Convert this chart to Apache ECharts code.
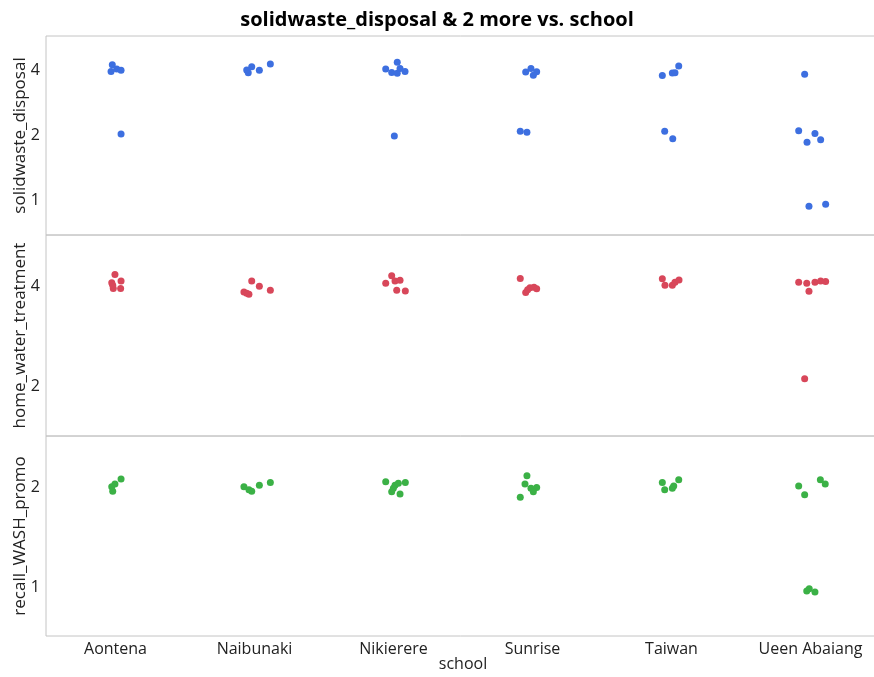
<!DOCTYPE html>
<html>
<head>
<meta charset="utf-8">
<script src="https://cdn.jsdelivr.net/npm/echarts/dist/echarts.min.js"></script>
<style>
  html, body { margin: 0; padding: 0; background: #fff; }
  #chart { width: 874px; height: 677px; }
</style>
</head>
<body>
<div id="chart"></div>
<script>
// Schools on the x axis
const schools = ['Aontena', 'Naibunaki', 'Nikierere', 'Sunrise', 'Taiwan', 'Ueen Abaiang'];

// Each point: [school index, horizontal jitter, jittered response value]
const solidwasteDisposal = [
  [0, -0.023, 4.23], [0, -0.032, 3.94], [0, 0.009, 4.04], [0, 0.040, 3.99], [0, 0.040, 2.02],
  [1, -0.045, 3.89], [1, -0.020, 4.14], [1, -0.056, 4.00], [1, 0.035, 3.99], [1, 0.114, 4.26],
  [2, -0.056, 4.04], [2, -0.013, 3.90], [2, 0.027, 4.34], [2, 0.027, 3.86], [2, 0.047, 4.07], [2, 0.083, 3.94], [2, 0.006, 1.98],
  [3, -0.049, 3.92], [3, -0.011, 4.07], [3, 0.030, 3.93], [3, 0.006, 3.78], [3, -0.088, 2.08], [3, -0.040, 2.06],
  [4, -0.066, 3.77], [4, 0.006, 3.87], [4, 0.025, 3.88], [4, 0.052, 4.17], [4, -0.049, 2.08], [4, 0.009, 1.92],
  [5, -0.042, 3.82], [5, -0.085, 2.09], [5, -0.025, 1.85], [5, 0.032, 2.03], [5, 0.073, 1.90], [5, -0.011, 0.935], [5, 0.109, 0.955]
];

const homeWaterTreatment = [
  [0, -0.004, 4.35], [0, -0.027, 4.11], [0, -0.016, 3.95], [0, 0.040, 4.16], [0, 0.037, 3.95], [0, -0.020, 4.04],
  [1, -0.076, 3.85], [1, -0.040, 3.79], [1, -0.056, 3.82], [1, -0.020, 4.16], [1, 0.035, 4.01], [1, 0.114, 3.90],
  [2, -0.056, 4.09], [2, -0.013, 4.31], [2, 0.011, 4.16], [2, 0.047, 4.18], [2, 0.023, 3.90], [2, 0.085, 3.88],
  [3, -0.088, 4.23], [3, -0.049, 3.84], [3, -0.018, 3.97], [3, 0.011, 3.98], [3, 0.030, 3.94], [3, -0.035, 3.91],
  [4, -0.066, 4.22], [4, -0.047, 4.04], [4, 0.006, 4.04], [4, 0.025, 4.12], [4, 0.054, 4.19],
  [5, -0.085, 4.12], [5, -0.027, 4.09], [5, -0.011, 3.87], [5, 0.032, 4.12], [5, 0.073, 4.16], [5, 0.109, 4.14], [5, -0.042, 2.11]
];

const recallWashPromo = [
  [0, -0.020, 1.95], [0, -0.027, 2.01], [0, -0.004, 2.05], [0, 0.040, 2.12],
  [1, -0.076, 2.01], [1, -0.040, 1.97], [1, -0.020, 1.95], [1, 0.035, 2.03], [1, 0.114, 2.07],
  [2, -0.056, 2.08], [2, -0.013, 1.94], [2, 0.011, 2.03], [2, 0.035, 2.06], [2, 0.047, 1.91], [2, 0.085, 2.07], [2, -0.001, 1.99],
  [3, -0.040, 2.17], [3, -0.054, 2.05], [3, -0.011, 1.99], [3, 0.030, 2.00], [3, 0.006, 1.94], [3, -0.088, 1.87],
  [4, -0.066, 2.07], [4, -0.049, 1.97], [4, 0.006, 1.99], [4, 0.016, 2.02], [4, 0.052, 2.11],
  [5, -0.085, 2.02], [5, -0.042, 1.90], [5, 0.071, 2.11], [5, 0.106, 2.05], [5, -0.027, 0.976], [5, -0.009, 0.99], [5, 0.032, 0.969]
];

// Panel titles and log-axis ranges
const panelNames = ['solidwaste_disposal', 'home_water_treatment', 'recall_WASH_promo'];
const panelRanges = [[0.688, 5.75], [1.419, 5.72], [0.714, 2.858]];
const panelData = [solidwasteDisposal, homeWaterTreatment, recallWashPromo];
const panelColors = ['#3d6fe0', '#d8475a', '#3bb146'];

const FONT = '"Open Sans", "Noto Sans", sans-serif';
const chart = echarts.init(document.getElementById('chart'), null, { renderer: 'canvas' });

const gridBoxes = [
  { top: 36, height: 199 },
  { top: 235, height: 201 },
  { top: 436, height: 200 }
];

// The plot frame runs past the right edge of the canvas
const grids = gridBoxes.map(b => ({
  left: 46, width: 834, top: b.top, height: b.height,
  outerBoundsMode: 'none', containLabel: false,
  show: true, borderColor: '#c4c4c4', borderWidth: 1, backgroundColor: 'transparent'
}));

const xAxes = gridBoxes.map((b, i) => ({
  type: 'value', gridIndex: i, position: 'top', min: -0.5, max: 5.5, show: false
}));
// Category labels along the bottom panel
xAxes.push({
  type: 'category', gridIndex: 2, position: 'bottom', data: schools, boundaryGap: true,
  axisLine: { show: false }, axisTick: { show: false }, splitLine: { show: false },
  axisLabel: { color: '#222', fontFamily: FONT, fontSize: 16, margin: 5 },
  name: 'school', nameLocation: 'middle', nameGap: 20, nameMoveOverlap: false,
  nameTextStyle: { color: '#222', fontFamily: FONT, fontSize: 16 }
});

const isPow2 = v => Math.abs(Math.log2(v) - Math.round(Math.log2(v))) < 1e-6;

const yAxes = panelNames.map((name, i) => ({
  type: 'log', logBase: 2, gridIndex: i,
  min: panelRanges[i][0], max: panelRanges[i][1],
  axisLine: { show: false }, axisTick: { show: false }, splitLine: { show: false },
  axisLabel: {
    color: '#222', fontFamily: FONT, fontSize: 16, margin: 6,
    formatter: v => (isPow2(v) ? String(Math.round(v)) : '')
  },
  name: name, nameLocation: 'middle', nameRotate: 90, nameGap: 17, nameMoveOverlap: false,
  nameTextStyle: { color: '#222', fontFamily: FONT, fontSize: 17 }
}));

const series = panelData.map((pts, i) => ({
  type: 'scatter', xAxisIndex: i, yAxisIndex: i,
  symbol: 'circle', symbolSize: 7,
  itemStyle: { color: panelColors[i], opacity: 1 },
  data: pts.map(p => [p[0] + p[1], p[2]])
}));

chart.setOption({
  animation: false,
  title: {
    text: 'solidwaste_disposal & 2 more vs. school',
    left: 'center', top: 5,
    textStyle: { fontFamily: FONT, fontSize: 20, fontWeight: 'bold', color: '#000' }
  },
  grid: grids,
  xAxis: xAxes,
  yAxis: yAxes,
  series: series
});
</script>
</body>
</html>
